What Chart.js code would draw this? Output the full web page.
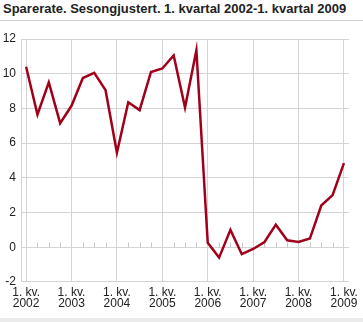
<!DOCTYPE html>
<html>
<head>
<meta charset="utf-8">
<script src="https://cdn.jsdelivr.net/npm/chart.js@4.4.0/dist/chart.umd.min.js"></script>
<style>
  html, body { margin: 0; padding: 0; background: #fff; }
  #wrap { position: relative; width: 363px; height: 322px; overflow: hidden; }
  #title {
    position: absolute; left: 3px; top: 1px;
    font: bold 13px "Liberation Sans", Arial, sans-serif; color: #222;
    white-space: nowrap;
  }
  #rule { position: absolute; left: 0; top: 20px; width: 363px; height: 1px; background: #cfcfcf; }
  #foot { position: absolute; left: 0; top: 318px; width: 363px; height: 4px; background: #ebebeb; }
  #c { position: absolute; left: 0; top: 0; }
</style>
</head>
<body>
<div id="wrap">
  <div id="title">Sparerate. Sesongjustert. 1. kvartal 2002-1. kvartal 2009</div>
  <div id="rule"></div>
  <canvas id="c" width="363" height="322"></canvas>
  <div id="foot"></div>
</div>
<script>
// Quarterly saving ratio, 1st quarter 2002 to 1st quarter 2009
const years = ['2002', '2003', '2004', '2005', '2006', '2007', '2008', '2009'];
const quarters = [
  '2002K1','2002K2','2002K3','2002K4',
  '2003K1','2003K2','2003K3','2003K4',
  '2004K1','2004K2','2004K3','2004K4',
  '2005K1','2005K2','2005K3','2005K4',
  '2006K1','2006K2','2006K3','2006K4',
  '2007K1','2007K2','2007K3','2007K4',
  '2008K1','2008K2','2008K3','2008K4',
  '2009K1'
];
const sparerate = [
  10.4, 7.65, 9.5, 7.15,
  8.15, 9.75, 10.05, 9.05,
  5.45, 8.35, 7.9, 10.1,
  10.3, 11.05, 8.05, 11.35,
  0.25, -0.6, 1.0, -0.4,
  -0.1, 0.3, 1.3, 0.4,
  0.3, 0.5, 2.4, 3.0,
  4.85
];
const yTicks = [-2, 0, 2, 4, 6, 8, 10, 12];

const points = sparerate.map((v, i) => ({ x: i, y: v }));
const font = { family: '"Liberation Sans", Arial, sans-serif', size: 12 };

// Short tick marks on the zero line for every quarter
const quarterTicks = {
  id: 'quarterTicks',
  beforeDatasetsDraw(chart) {
    const { ctx, scales: { x, y } } = chart;
    const y0 = Math.round(y.getPixelForValue(0)) + 0.5;
    ctx.save();
    ctx.strokeStyle = '#c8c8c8';
    ctx.lineWidth = 1;
    ctx.beginPath();
    quarters.forEach((q, i) => {
      if (i % 4 === 0) return;
      const px = Math.round(x.getPixelForValue(i)) + 0.5;
      ctx.moveTo(px, y0);
      ctx.lineTo(px, y0 - 5);
    });
    ctx.stroke();
    ctx.restore();
  }
};

new Chart(document.getElementById('c'), {
  type: 'line',
  data: {
    datasets: [{
      data: points,
      borderColor: '#a0001a',
      borderWidth: 2.5,
      pointRadius: 0,
      tension: 0,
      fill: false
    }]
  },
  options: {
    responsive: false,
    animation: false,
    events: [],
    layout: { padding: { left: 0, right: 10, top: 39, bottom: 8 } },
    plugins: { legend: { display: false }, tooltip: { enabled: false }, title: { display: false } },
    scales: {
      x: {
        type: 'linear',
        min: -0.45,
        max: 28.45,
        afterBuildTicks(scale) {
          scale.ticks = years.map((yr, i) => ({ value: i * 4 }));
        },
        ticks: {
          autoSkip: false,
          maxRotation: 0,
          padding: 5,
          color: '#222',
          font: { ...font, lineHeight: 0.92 },
          callback: (v) => ['1. kv.', years[Math.round(v / 4)]]
        },
        grid: { color: '#d4d4d4', drawTicks: false, lineWidth: 1 },
        border: { display: false }
      },
      y: {
        min: -2,
        max: 12,
        afterBuildTicks(scale) {
          scale.ticks = yTicks.map(v => ({ value: v }));
        },
        afterFit(scale) { scale.width = 21; },
        ticks: { padding: 5, color: '#222', font },
        grid: { color: '#d4d4d4', drawTicks: false, lineWidth: 1 },
        border: { display: true, color: '#d4d4d4' }
      }
    }
  },
  plugins: [quarterTicks]
});
</script>
</body>
</html>
